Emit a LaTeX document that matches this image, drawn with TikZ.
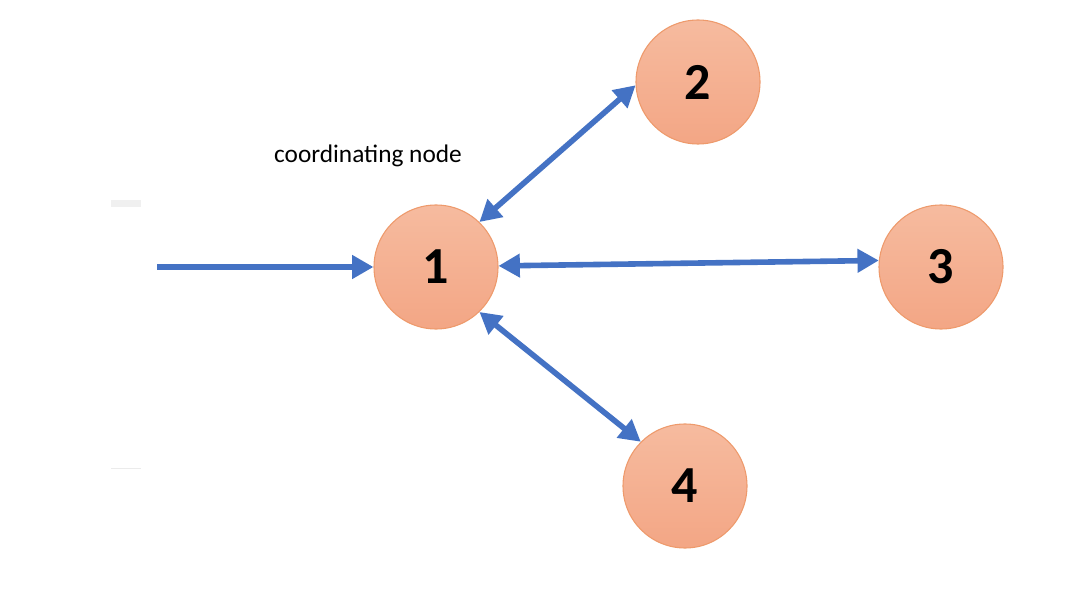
\documentclass[tikz,border=0pt]{standalone}
\usepackage{fontspec}
\setmainfont{Carlito}
\usetikzlibrary{arrows.meta,shadings}
\definecolor{arrowblue}{HTML}{4472C4}
\definecolor{circtop}{HTML}{F6BB9F}
\definecolor{circbot}{HTML}{F3A685}
\definecolor{circline}{HTML}{EE9A6C}
\tikzset{
  peer/.style={circle, minimum size=124*0.75pt, inner sep=0pt, draw=circline, line width=0.8pt,
    top color=circtop, bottom color=circbot, font=\fontsize{39}{42}\selectfont\bfseries},
  link/.style={draw=arrowblue, line width=4.2pt, -{Triangle[length=16pt,width=17pt]}},
  biLink/.style={draw=arrowblue, line width=4.2pt, {Triangle[length=16pt,width=17pt]}-{Triangle[length=16pt,width=17pt]}},
  lbl/.style={font=\fontsize{19}{22}\selectfont, inner sep=0pt}
}
\begin{document}
\begin{tikzpicture}[x=0.75pt,y=-0.75pt]
\useasboundingbox (0,0) rectangle (1078,595);
\fill[white] (0,0) rectangle (1078,595);
% faint background artifacts
\fill[black!6] (111,200) rectangle (141,207);
\draw[black!8, line width=0.6pt] (111,468) -- (141,468);
\node[peer] (n1) at (436,267) {1};
\node[peer] (n2) at (698,82) {2};
\node[peer] (n3) at (941,267) {3};
\node[peer] (n4) at (685,486) {4};
\node[lbl] (cap) at (368,156) {coordinating node};
\coordinate (src) at (157,267);
\draw[link] (src) -- (n1.west);
\draw[biLink] (n1.46) -- (n2.183);
\draw[biLink] (n1.1) -- (n3.174);
\draw[biLink] (n1.-46) -- (n4.135);
\end{tikzpicture}
\end{document}
